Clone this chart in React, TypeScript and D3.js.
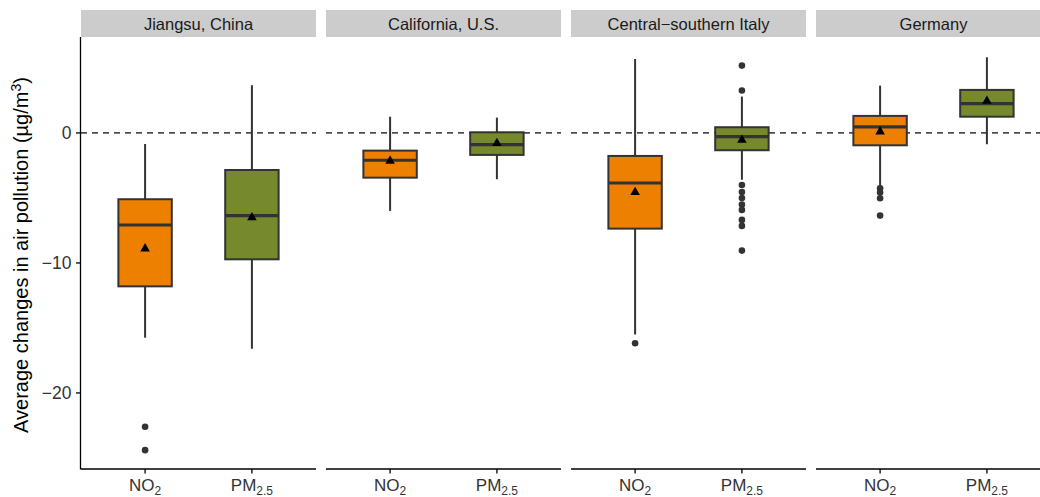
import * as React from "react";
import * as d3 from "d3";

// facets and categories
const regions = ["Jiangsu, China", "California, U.S.", "Central\u2212southern Italy", "Germany"];
const pollutants = ["NO2", "PM2.5"];

// box stats, order: region by region, NO2 then PM2.5
const whiskerHigh = [-0.85, 3.67, 1.25, 1.18, 5.69, 2.8, 3.64, 5.82];
const upperQ = [-5.1, -2.85, -1.36, 0.05, -1.77, 0.44, 1.31, 3.31];
const medians = [-7.08, -6.36, -2.1, -0.9, -3.85, -0.28, 0.46, 2.26];
const lowerQ = [-11.8, -9.72, -3.44, -1.69, -7.36, -1.33, -0.95, 1.25];
const whiskerLow = [-15.75, -16.6, -6.0, -3.56, -15.5, -3.6, -4.1, -0.87];
const means = [-8.9, -6.5, -2.15, -0.8, -4.56, -0.54, 0.1, 2.46];
const outliers: number[][] = [
  [-22.6, -24.4],
  [],
  [],
  [],
  [-16.18],
  [5.18, 3.26, -4.0, -4.54, -5.0, -5.5, -5.92, -6.69, -7.15, -9.05],
  [-4.25, -4.59, -5.02, -6.36],
  [],
];

const yTicks = [0, -10, -20];
const fills: Record<string, string> = { NO2: "#EE8000", "PM2.5": "#76892C" };

const W = 1040;
const H = 497;

export default function App() {
  const svgRef = React.useRef<SVGSVGElement>(null);

  React.useEffect(() => {
    const svgEl = svgRef.current;
    if (!svgEl) return;
    while (svgEl.firstChild) svgEl.removeChild(svgEl.firstChild);

    const svg = d3.select(svgEl);
    const top = 37;
    const bottom = 469;
    const left = 81;

    const facet = d3
      .scaleBand<string>()
      .domain(regions)
      .range([left, left + 4 * 235 + 3 * 10])
      .paddingInner(10 / 245);
    const bw = facet.bandwidth();

    const x = d3.scalePoint<string>().domain(pollutants).range([0, bw]).padding(0.6);
    const boxW = x.step() * 0.5;

    const y = d3.scaleLinear().domain([-25.85, 7.38]).range([bottom, top]);

    const font = '"Liberation Sans", Arial, sans-serif';

    // y axis title
    svg
      .append("text")
      .attr("transform", `translate(28,255) rotate(-90)`)
      .attr("text-anchor", "middle")
      .attr("font-family", font)
      .attr("font-size", 20)
      .attr("fill", "#000")
      .call((t) => {
        t.append("tspan").text("Average changes in air pollution (\u00b5g/m");
        t.append("tspan").attr("font-size", 14).attr("dy", -7).text("3");
        t.append("tspan").attr("dy", 7).text(")");
      });

    // y axis
    const yAxis = svg.append("g").attr("transform", `translate(${left - 0.5},0)`);
    yAxis
      .append("line")
      .attr("y1", top)
      .attr("y2", bottom + 0.5)
      .attr("stroke", "#000")
      .attr("stroke-width", 1.3);
    yAxis
      .selectAll(".tick")
      .data(yTicks)
      .enter()
      .append("g")
      .attr("transform", (d) => `translate(0,${y(d)})`)
      .call((g) => {
        g.append("line").attr("x1", -4.5).attr("x2", 0).attr("stroke", "#000").attr("stroke-width", 1.3);
        g.append("text")
          .attr("x", -9)
          .attr("dy", "0.36em")
          .attr("text-anchor", "end")
          .attr("font-family", font)
          .attr("font-size", 17.5)
          .attr("fill", "#333")
          .text((d) => (d < 0 ? "\u2212" + Math.abs(d) : String(d)));
      });

    regions.forEach((region, ri) => {
      const x0 = facet(region)!;
      const g = svg.append("g").attr("transform", `translate(${x0},0)`);

      // strip
      g.append("rect").attr("x", 0).attr("y", 10).attr("width", bw).attr("height", 27).attr("fill", "#CCCCCC");
      g.append("text")
        .attr("x", bw / 2)
        .attr("y", 30)
        .attr("text-anchor", "middle")
        .attr("font-family", font)
        .attr("font-size", 16.5)
        .attr("fill", "#1A1A1A")
        .text(region);

      // zero reference
      g.append("line")
        .attr("x1", 0)
        .attr("x2", bw)
        .attr("y1", y(0))
        .attr("y2", y(0))
        .attr("stroke", "#4D4D4D")
        .attr("stroke-width", 1.7)
        .attr("stroke-dasharray", "6,5");

      // x axis
      g.append("line")
        .attr("x1", 0)
        .attr("x2", bw)
        .attr("y1", bottom)
        .attr("y2", bottom)
        .attr("stroke", "#000")
        .attr("stroke-width", 1.3);

      pollutants.forEach((p, pi) => {
        const i = ri * 2 + pi;
        const cx = x(p)!;

        g.append("line")
          .attr("x1", cx)
          .attr("x2", cx)
          .attr("y1", bottom)
          .attr("y2", bottom + 4.5)
          .attr("stroke", "#000")
          .attr("stroke-width", 1.3);
        const lab = g
          .append("text")
          .attr("x", cx)
          .attr("y", 491)
          .attr("text-anchor", "middle")
          .attr("font-family", font)
          .attr("font-size", 17)
          .attr("fill", "#333");
        lab.append("tspan").text(p === "NO2" ? "NO" : "PM");
        lab.append("tspan").attr("font-size", 12).attr("dy", 4).text(p === "NO2" ? "2" : "2.5");

        // whiskers
        g.append("line")
          .attr("x1", cx)
          .attr("x2", cx)
          .attr("y1", y(whiskerHigh[i]))
          .attr("y2", y(upperQ[i]))
          .attr("stroke", "#333")
          .attr("stroke-width", 2);
        g.append("line")
          .attr("x1", cx)
          .attr("x2", cx)
          .attr("y1", y(lowerQ[i]))
          .attr("y2", y(whiskerLow[i]))
          .attr("stroke", "#333")
          .attr("stroke-width", 2);

        // box
        g.append("rect")
          .attr("x", cx - boxW / 2)
          .attr("y", y(upperQ[i]))
          .attr("width", boxW)
          .attr("height", y(lowerQ[i]) - y(upperQ[i]))
          .attr("fill", fills[p])
          .attr("stroke", "#333")
          .attr("stroke-width", 2);
        g.append("line")
          .attr("x1", cx - boxW / 2)
          .attr("x2", cx + boxW / 2)
          .attr("y1", y(medians[i]))
          .attr("y2", y(medians[i]))
          .attr("stroke", "#333")
          .attr("stroke-width", 3.2);

        // outliers
        g.selectAll(null)
          .data(outliers[i])
          .enter()
          .append("circle")
          .attr("cx", cx)
          .attr("cy", (d) => y(d))
          .attr("r", 3.3)
          .attr("fill", "#333");

        // mean
        g.append("path")
          .attr("d", d3.symbol().type(d3.symbolTriangle).size(40)()!)
          .attr("transform", `translate(${cx},${y(means[i])})`)
          .attr("fill", "#000");
      });
    });

    return () => {
      while (svgEl.firstChild) svgEl.removeChild(svgEl.firstChild);
    };
  }, []);

  return (
    <svg
      ref={svgRef}
      width={W}
      height={H}
      style={{ position: "absolute", left: 0, top: 0, background: "#fff" }}
    />
  );
}
